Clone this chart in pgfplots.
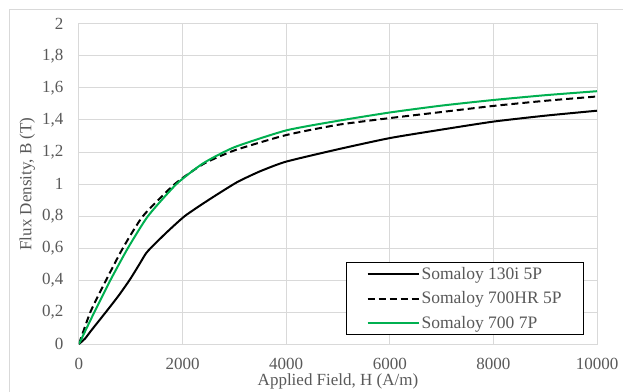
\documentclass[border=0pt]{standalone}
\usepackage{fontspec}
\setmainfont{Liberation Serif}
\usepackage{pgfplots}
\pgfplotsset{compat=1.18}
\definecolor{gridgray}{HTML}{D9D9D9}
\definecolor{txtgray}{HTML}{595959}
\definecolor{xlgreen}{HTML}{00B050}
\begin{document}
\begin{tikzpicture}
\begin{axis}[
  at={(0,0)}, anchor=south west,
  scale only axis, width=518bp, height=320bp,
  xmin=0, xmax=10000, ymin=0, ymax=2,
  xtick={0,2000,...,10000}, ytick={0,0.2,...,2.01},
  scaled x ticks=false, scaled y ticks=false,
  /pgf/number format/assume math mode=true,
  /pgf/number format/use comma,
  /pgf/number format/1000 sep={},
  xticklabel style={/pgf/number format/fixed},
  yticklabel style={/pgf/number format/fixed, /pgf/number format/precision=1},
  major tick length=0pt,
  grid=major,
  major grid style={gridgray, line width=1bp},
  axis line style={gridgray, line width=1bp},
  tick label style={font=\fontsize{17bp}{20bp}\selectfont, text=txtgray},
  xticklabel style={inner sep=0pt, yshift=-13.5bp},
  yticklabel style={xshift=-12bp},
  xlabel={Applied Field, H (A/m)},
  ylabel={Flux Density, B (T)},
  label style={font=\fontsize{17bp}{20bp}\selectfont, text=txtgray},
  xlabel style={at={(axis description cs:0.5,-0.117)}, anchor=center, inner sep=0pt},
  ylabel style={at={(axis description cs:-0.1,0.5)}, anchor=center, rotate=0},
  legend style={at={(rel axis cs:0.975,0.028)}, anchor=south east,
    draw=black, line width=1bp, fill=white,
    font=\fontsize{17.5bp}{20bp}\selectfont, text=txtgray,
    inner xsep=20bp, inner ysep=3bp, row sep=6.5bp},
  legend cell align=left,
  legend image code/.code={\draw[#1] (0bp,0bp) -- (51bp,0bp);},
]
\addplot[black, line width=2bp, smooth, tension=0.35] coordinates {
(0,0) (120,0.035) (233,0.083) (520,0.2) (760,0.3) (977,0.4) (1150,0.49) (1290,0.565) (1400,0.605)
(1700,0.7) (2044,0.8) (2500,0.9) (3044,1.01) (3500,1.08) (4000,1.14)
(5000,1.217) (6000,1.287) (7000,1.34) (8000,1.39) (9000,1.427) (10000,1.458)};
\addlegendentry{Somaloy 130i 5P}
\addplot[black, line width=2bp, dash pattern=on 7bp off 4bp, smooth, tension=0.35] coordinates {
(0,0) (220,0.2) (524,0.4) (848,0.6) (1236,0.8) (1850,1.0) (2400,1.125)
(3000,1.21) (4000,1.306) (5000,1.37) (6000,1.412) (7000,1.45) (8000,1.488)
(9000,1.52) (10000,1.547)};
\addlegendentry{Somaloy 700HR 5P}
\addplot[xlgreen, line width=2bp, smooth, tension=0.35] coordinates {
(0,0) (298,0.2) (608,0.4) (945,0.6) (1333,0.8) (1883,1.0) (2400,1.13)
(3000,1.23) (4000,1.335) (5000,1.395) (6000,1.447) (7000,1.49) (8000,1.525)
(9000,1.555) (10000,1.58)};
\addlegendentry{Somaloy 700 7P}
\end{axis}
\draw[gridgray, line width=1bp] (-69bp,-48bp) -- (-69bp,334bp) -- (544bp,334bp);
\pgfresetboundingbox
\path[use as bounding box] (-79bp,-48bp) rectangle (544bp,344bp);
\end{tikzpicture}
\end{document}
